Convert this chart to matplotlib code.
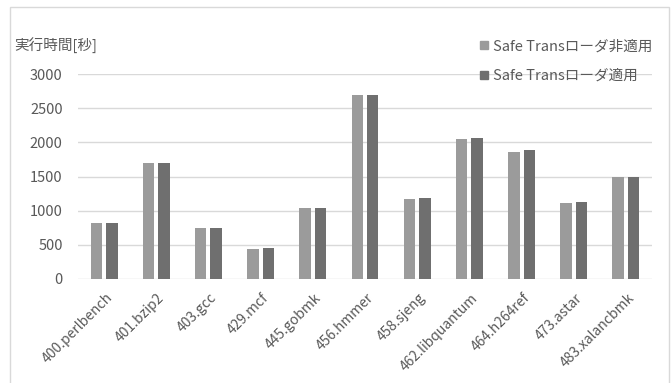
import matplotlib
matplotlib.use("Agg")
import matplotlib.pyplot as plt
from matplotlib.lines import Line2D
from matplotlib.patches import Rectangle
from matplotlib.transforms import ScaledTranslation
import numpy as np

plt.rcParams['font.family'] = ['Noto Sans CJK JP', 'DejaVu Sans']

categories = ["400.perlbench", "401.bzip2", "403.gcc", "429.mcf", "445.gobmk",
              "456.hmmer", "458.sjeng", "462.libquantum", "464.h264ref",
              "473.astar", "483.xalancbmk"]
without_loader = [820, 1700, 745, 435, 1045, 2700, 1165, 2045, 1860, 1115, 1500]
with_loader = [820, 1700, 745, 450, 1045, 2700, 1180, 2070, 1885, 1130, 1500]
series_names = ["Safe Transローダ非適用", "Safe Transローダ適用"]
yticks = [0, 500, 1000, 1500, 2000, 2500, 3000]
ylabel = "実行時間[秒]"

W, H = 672, 383
fig = plt.figure(figsize=(W / 100, H / 100), dpi=100)
ax = fig.add_axes([78 / W, 1 - 279 / H, (652 - 78) / W, (279 - 74) / H])

c1, c2 = "#9b9b9b", "#6f6f6f"
text_c = "#595959"
x = np.arange(len(categories))
bw = 0.22
off = 0.148
ax.bar(x - off, without_loader, bw, color=c1, zorder=3)
ax.bar(x + off, with_loader, bw, color=c2, zorder=3)

ax.set_xlim(-0.5, len(categories) - 0.5)
ax.set_ylim(0, 3000)
ax.set_yticks(yticks)
ax.set_yticklabels([str(v) for v in yticks], color=text_c, fontsize=10.5)
ax.yaxis.grid(True, color="#d9d9d9", lw=1, zorder=0)
for s in ax.spines.values():
    s.set_visible(False)
ax.tick_params(axis='y', length=0, pad=11)
ax.tick_params(axis='x', length=0, pad=12)
ax.set_xticks(x)
ax.set_xticklabels(categories, rotation=45, ha='right', va='center',
                   rotation_mode='anchor', color=text_c, fontsize=10)
for lab in ax.get_xticklabels():
    lab.set_transform(lab.get_transform() + ScaledTranslation(6 / 100, 0, fig.dpi_scale_trans))

fig.text(14 / W, 1 - 46 / H, ylabel, color=text_c, fontsize=10.5, va='center', ha='left')

handles = [Line2D([], [], marker='s', ls='none', color=c, markersize=6) for c in (c1, c2)]
leg = fig.legend(handles, series_names, loc='upper right', bbox_to_anchor=(660 / W, 1 - 32 / H),
                 frameon=False, fontsize=10.5, handlelength=0.6, handletextpad=0.35,
                 labelspacing=1.05, borderpad=0)
for t in leg.get_texts():
    t.set_color(text_c)

fig.patches.append(Rectangle((10 / W, -0.05), (669 - 10) / W, 1.05 - 7 / H,
                             transform=fig.transFigure, fill=False, ec="#d9d9d9", lw=1))

fig.savefig("out.png", dpi=100)
